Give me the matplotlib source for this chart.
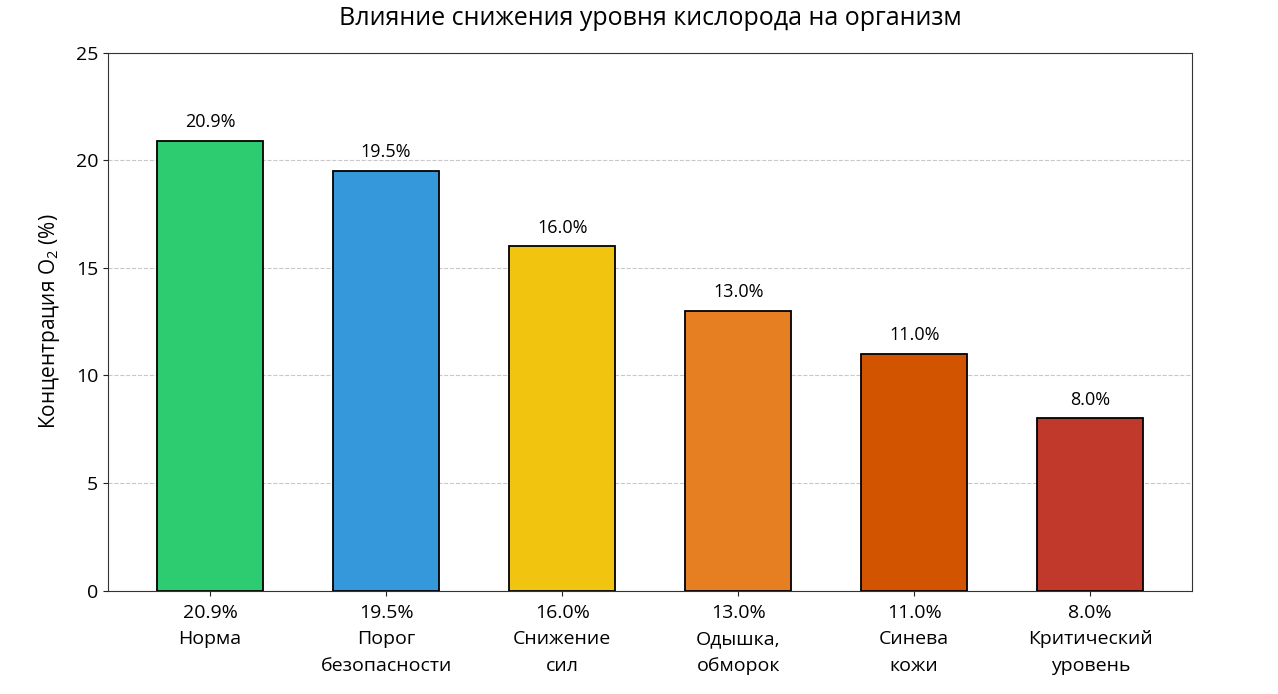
import matplotlib.pyplot as plt
import numpy as np

plt.rcParams['font.family'] = ['Open Sans', 'DejaVu Sans']
plt.rcParams['mathtext.fontset'] = 'custom'
plt.rcParams['mathtext.rm'] = 'Open Sans'

niveles = [20.9, 19.5, 16.0, 13.0, 11.0, 8.0]
efectos = ['Норма', 'Порог\nбезопасности', 'Снижение\nсил', 'Одышка,\nобморок', 'Синева\nкожи', 'Критический\nуровень']
colores = ['#2ecc71', '#3498db', '#f1c40f', '#e67e22', '#d35400', '#c0392b']

etiquetas = [f"{v:.1f}%\n{e}" for v, e in zip(niveles, efectos)]
x = np.arange(len(niveles))

fig, ax = plt.subplots(figsize=(12.78, 6.94), dpi=100)
fig.subplots_adjust(left=0.0845, right=0.933, top=0.924, bottom=0.149)

barras = ax.bar(x, niveles, width=0.6, color=colores, edgecolor='black', linewidth=1.3, zorder=3)

for b, v in zip(barras, niveles):
    ax.annotate(f"{v:.1f}%", (b.get_x() + b.get_width() / 2, v),
                xytext=(0, 7), textcoords='offset points',
                ha='center', va='bottom', fontsize=13)

ax.set_xticks(x)
ax.set_xticklabels(etiquetas, fontsize=14, linespacing=1.6)
ax.tick_params(axis='x', pad=6)
ax.set_ylim(0, 25)
ax.set_yticks([0, 5, 10, 15, 20, 25])
ax.tick_params(axis='y', labelsize=14)
ax.tick_params(colors='#222222', labelcolor='black')
for sp in ax.spines.values():
    sp.set_color('#333333')
ax.yaxis.grid(True, linestyle='--', color='#bbbbbb', alpha=0.8, zorder=0)

ax.set_ylabel(r'Концентрация $\mathrm{O}_2$ (%)', fontsize=15, labelpad=10)
ax.set_title('Влияние снижения уровня кислорода на организм', fontsize=18, pad=20)

plt.savefig('out.png', dpi=100)
